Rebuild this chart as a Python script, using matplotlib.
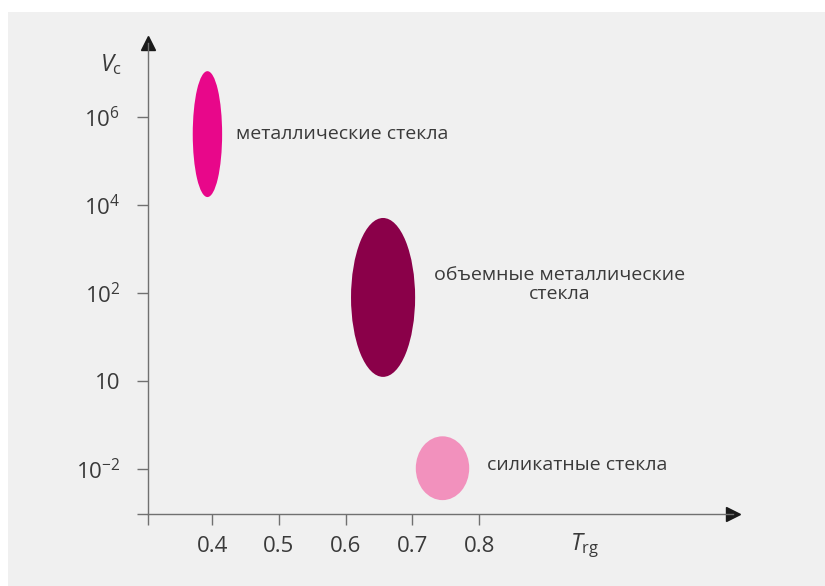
import matplotlib
matplotlib.use("Agg")
import matplotlib.pyplot as plt
from matplotlib.patches import Ellipse, Rectangle

plt.rcParams["font.family"] = ["Open Sans", "DejaVu Sans"]
plt.rcParams["mathtext.fontset"] = "custom"
plt.rcParams["mathtext.rm"] = "Open Sans"
plt.rcParams["mathtext.it"] = "Open Sans:italic"

# Glass families: reduced glass temperature (Trg) vs. log10 critical cooling rate (Vc)
labels = ["металлические стекла", "объемные металлические\nстекла", "силикатные стекла"]
trg_center = [0.393, 0.656, 0.745]
trg_width = [0.044, 0.096, 0.080]
logvc_center = [5.61, 1.90, -1.98]
logvc_height = [2.86, 3.61, 1.45]
colors = ["#e8078a", "#8a0049", "#f291bd"]

# label anchors (Trg, log10 Vc)
label_x = [0.436, 0.921, 0.812]
label_y = [5.61, 2.20, -1.91]
label_ha = ["left", "center", "left"]

xticks = [0.4, 0.5, 0.6, 0.7, 0.8]
xtick_labels = ["0.4", "0.5", "0.6", "0.7", "0.8"]
yticks = [6, 4, 2, 0, -2]
ytick_labels = [r"$10^{6}$", r"$10^{4}$", r"$10^{2}$", "10", r"$10^{-2}$"]

W, H = 825, 586
fig = plt.figure(figsize=(W / 100, H / 100), dpi=100)
fig.patch.set_facecolor("white")
fig.patches.append(Rectangle((8 / W, 0), 817 / W, (H - 12) / H,
                             transform=fig.transFigure, facecolor="#f0f0f0",
                             edgecolor="none", zorder=-10))

ax = fig.add_axes([148 / W, (H - 514) / H, (733 - 148) / W, (514 - 43) / H])
ax.set_facecolor("none")
x0, x1 = 0.304, 1.18
y0, y1 = -3.02, 7.68
ax.set_xlim(x0, x1)
ax.set_ylim(y0, y1)

axis_col = "#707070"
text_col = "#3a3a3a"
for s in ["top", "right"]:
    ax.spines[s].set_visible(False)
for s in ["left", "bottom"]:
    ax.spines[s].set_color(axis_col)
    ax.spines[s].set_linewidth(1.0)

ax.set_xticks([x0] + xticks)
ax.set_xticklabels([""] + xtick_labels)
ax.set_yticks([y0] + yticks)
ax.set_yticklabels([""] + ytick_labels)
ax.tick_params(axis="both", direction="out", length=8, width=1.0,
               color=axis_col, labelcolor=text_col, labelsize=16)
ax.tick_params(axis="x", pad=8)
ax.tick_params(axis="y", pad=12)

# arrowheads on the axes
ax.plot([1], [0], marker=">", markersize=10, color="#1a1a1a",
        transform=ax.transAxes, clip_on=False)
ax.plot([0], [1], marker="^", markersize=10, color="#1a1a1a",
        transform=ax.transAxes, clip_on=False)

for cx, w, cy, h, c in zip(trg_center, trg_width, logvc_center, logvc_height, colors):
    ax.add_patch(Ellipse((cx, cy), w, h, facecolor=c, edgecolor="none"))

for lx, ly, t, ha in zip(label_x, label_y, labels, label_ha):
    ax.text(lx, ly, t, ha=ha, va="center", fontsize=14, color=text_col,
            linespacing=1.05, multialignment="center")

fig.text(100 / W, 1 - 65 / H, r"$V_{\mathrm{c}}$", fontsize=17, color=text_col,
         ha="left", va="center")
fig.text(570 / W, 1 - 546 / H, r"$T_{\mathrm{rg}}$", fontsize=17, color=text_col,
         ha="left", va="center")

fig.savefig("out.png", dpi=100)
